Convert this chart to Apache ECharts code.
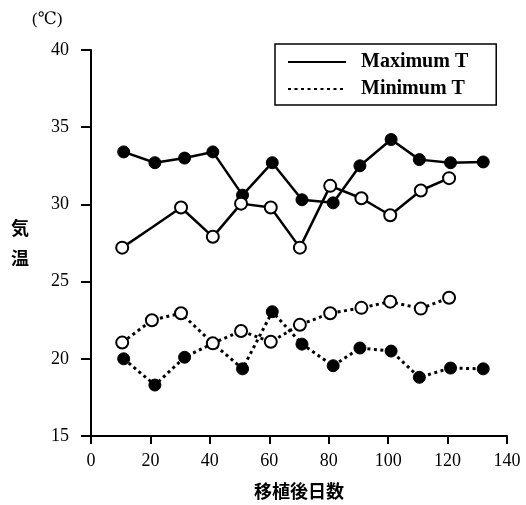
<!DOCTYPE html>
<html>
<head>
<meta charset="utf-8">
<script src="https://cdn.jsdelivr.net/npm/echarts@6/dist/echarts.min.js"></script>
<style>html,body{margin:0;padding:0;background:#fff}#c{width:526px;height:505px}</style>
</head>
<body>
<div id="c"></div>
<script>
// Days after transplanting (x) for filled-circle and open-circle series
var daysFilled = [11, 21.5, 31.5, 41, 51, 61, 71, 81.5, 90.5, 101, 110.5, 121, 132];
var daysOpen   = [10.5, 20.5, 30.3, 41, 50.5, 60.5, 70.3, 80.5, 91, 100.7, 111, 120.5];
// Maximum temperature (solid lines)
var maxFilled = [33.4, 32.7, 33.0, 33.4, 30.6, 32.7, 30.3, 30.1, 32.5, 34.2, 32.9, 32.7, 32.75];
var maxOpen   = [27.2, 28.5, 29.8, 27.9, 30.05, 29.8, 27.2, 31.2, 30.4, 29.3, 30.9, 31.7];
// Minimum temperature (dotted lines)
var minFilled = [20.0, 18.3, 20.1, 21.0, 19.35, 23.05, 20.95, 19.55, 20.7, 20.5, 18.8, 19.4, 19.35];
var minOpen   = [21.05, 22.5, 22.95, 21.0, 21.8, 21.1, 22.2, 22.95, 23.3, 23.7, 23.25, 23.95];
// points drawn without a marker in the reference
var maxOpenNoMarker = [1];
var minFilledNoMarker = [3];
var xTicks = {min: 0, max: 140, interval: 20};
var yTicks = {min: 15, max: 40, interval: 5};
var legendNames = ['Maximum T', 'Minimum T'];

function pts(xs, ys, hidden) {
  return ys.map(function (v, i) {
    var d = {value: [xs[i], v]};
    if (hidden && hidden.indexOf(i) >= 0) d.symbol = 'none';
    return d;
  });
}
var serif = '"Liberation Serif", "DejaVu Serif", serif';
var cjk = '"Noto Sans CJK JP", sans-serif';
var solid = {color: '#000', width: 2.5, type: 'solid'};
var dotted = {color: '#000', width: 3, type: [3, 3.5]};
var filledStyle = {color: '#000', borderColor: '#000', borderWidth: 1};
var openStyle = {color: '#fff', borderColor: '#000', borderWidth: 2};

var chart = echarts.init(document.getElementById('c'));
chart.setOption({
  animation: false,
  backgroundColor: '#fff',
  title: {text: '(℃)', left: 27, top: 6, textStyle: {fontFamily: serif, fontSize: 17, fontWeight: 'normal', color: '#000'}},
  legend: {
    data: legendNames, orient: 'vertical', left: 275, top: 44,
    padding: [8, 28, 6, 12], itemGap: 7, itemWidth: 58, itemHeight: 16,
    borderColor: '#000', borderWidth: 1.5, borderRadius: 0,
    itemStyle: {opacity: 0},
    textStyle: {fontFamily: serif, fontSize: 20, fontWeight: 'bold', color: '#000', padding: [0, 0, 0, 10]}
  },
  grid: {left: 91, right: 19, top: 50, bottom: 68},
  xAxis: {
    type: 'value', min: xTicks.min, max: xTicks.max, interval: xTicks.interval,
    name: '移植後日数', nameLocation: 'middle', nameGap: 46,
    nameTextStyle: {fontFamily: cjk, fontSize: 18, fontWeight: 'bold', color: '#000'},
    axisLine: {lineStyle: {color: '#000', width: 2}},
    axisTick: {length: 8, lineStyle: {color: '#000', width: 2}},
    axisLabel: {fontFamily: serif, fontSize: 18, color: '#000', margin: 16},
    splitLine: {show: false}
  },
  yAxis: {
    type: 'value', min: yTicks.min, max: yTicks.max, interval: yTicks.interval,
    name: '気\n温', nameLocation: 'middle', nameRotate: 0, nameGap: 62,
    nameTextStyle: {fontFamily: cjk, fontSize: 18, fontWeight: 'bold', color: '#000', lineHeight: 30},
    axisLine: {show: true, lineStyle: {color: '#000', width: 2}},
    axisTick: {show: true, length: 10, lineStyle: {color: '#000', width: 2}},
    axisLabel: {fontFamily: serif, fontSize: 18, color: '#000', margin: 22},
    splitLine: {show: false}
  },
  series: [
    {name: 'Maximum T', type: 'line', data: [], symbol: 'none', lineStyle: solid, itemStyle: {color: '#000'}},
    {name: 'Minimum T', type: 'line', data: [], symbol: 'none', lineStyle: dotted, itemStyle: {color: '#000'}},
    {name: 'max-filled', type: 'line', data: pts(daysFilled, maxFilled), symbol: 'circle', symbolSize: 12,
     lineStyle: solid, itemStyle: filledStyle, z: 3},
    {name: 'max-open', type: 'line', data: pts(daysOpen, maxOpen, maxOpenNoMarker), symbol: 'circle', symbolSize: 12,
     lineStyle: solid, itemStyle: openStyle, z: 4},
    {name: 'min-filled', type: 'line', data: pts(daysFilled, minFilled, minFilledNoMarker), symbol: 'circle', symbolSize: 12,
     lineStyle: dotted, itemStyle: filledStyle, z: 3},
    {name: 'min-open', type: 'line', data: pts(daysOpen, minOpen), symbol: 'circle', symbolSize: 12,
     lineStyle: dotted, itemStyle: openStyle, z: 4}
  ]
});
</script>
</body>
</html>
